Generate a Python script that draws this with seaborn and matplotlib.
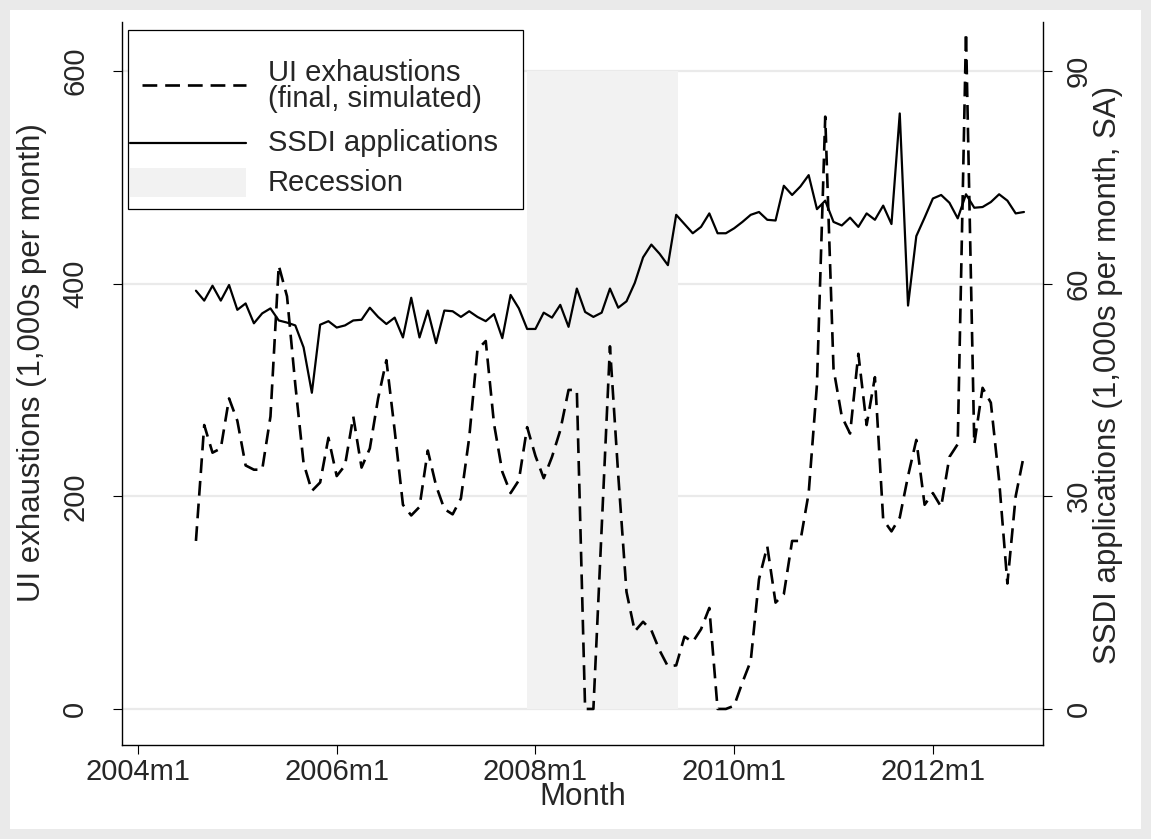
import matplotlib.pyplot as plt
import numpy as np
import pandas as pd
import seaborn as sns
from matplotlib.patches import Rectangle
from matplotlib.lines import Line2D

# monthly data, 2004m8 - 2012m12
months = pd.period_range("2004-08", "2012-12", freq="M")

ui_exhaustions = [
    158, 267, 241, 245, 292, 271, 229, 225, 225, 275, 417, 388, 305, 231, 205, 213, 255,
    219, 229, 275, 227, 245, 292, 328, 262, 192, 182, 190, 243,
    210, 188, 183, 198, 255, 338, 346, 268, 223, 203, 215, 265,
    238, 217, 237, 262, 300, 300, 0, 0, 170, 341, 220, 110,
    73, 82, 74, 55, 40, 41, 68, 63, 75, 95, 0, 0,
    3, 25, 45, 122, 153, 100, 108, 158, 158, 203, 305, 557,
    320, 275, 259, 334, 267, 312, 178, 167, 180, 219, 253, 192,
    203, 190, 237, 249, 636, 249, 302, 288, 215, 118, 200, 239,
]

ssdi_applications = [
    59.0, 57.6, 59.7, 57.6, 59.8, 56.3, 57.2, 54.4, 55.8, 56.5, 54.8, 54.5, 54.1, 51.0, 44.6, 54.2, 54.7,
    53.8, 54.1, 54.8, 54.9, 56.6, 55.3, 54.3, 55.2, 52.4, 58.0, 52.4, 56.2,
    51.6, 56.2, 56.1, 55.3, 56.1, 55.3, 54.7, 55.7, 52.3, 58.4, 56.5, 53.6,
    53.6, 55.9, 55.2, 57.0, 53.9, 59.3, 56.0, 55.3, 55.9, 59.3, 56.6, 57.5,
    60.1, 63.7, 65.5, 64.2, 62.6, 69.7, 68.4, 67.1, 68.0, 69.9, 67.1, 67.1,
    67.8, 68.7, 69.7, 70.1, 69.0, 68.9, 73.8, 72.5, 73.7, 75.3, 70.5, 71.7,
    68.7, 68.2, 69.3, 68.0, 69.9, 69.0, 71.0, 68.4, 84.0, 56.9, 66.7, 69.3,
    72.0, 72.5, 71.4, 69.2, 72.6, 70.7, 70.8, 71.5, 72.6, 71.7, 69.9, 70.1,
]

recession_start = "2007-12"
recession_end = "2009-06"
tick_months = ["2004-01", "2006-01", "2008-01", "2010-01", "2012-01"]
left_ticks = [0, 200, 400, 600]
right_ticks = [0, 30, 60, 90]
legend_labels = ["UI exhaustions\n(final, simulated)", "SSDI applications", "Recession"]


def month_num(p):
    p = pd.Period(p, freq="M")
    return (p.year - 2004) * 12 + p.month - 1


df = pd.DataFrame({
    "month": [month_num(p) for p in months],
    "ui": ui_exhaustions,
    "ssdi": ssdi_applications,
})

sns.set_theme(style="white")
plt.rcParams["font.family"] = ["Liberation Sans", "DejaVu Sans"]
FS_TICK = 21
FS_LEG = 21
FS_TITLE = 22.5
W, H = 1151, 839
SHADE = "#f2f2f2"
DASH = (5.6, 3.0)

fig = plt.figure(figsize=(W / 100, H / 100), dpi=100, facecolor="#eaeaea")
fig.add_artist(Rectangle((10 / W, 10 / H), (W - 20) / W, (H - 20) / H,
                         transform=fig.transFigure, facecolor="white",
                         edgecolor="none", zorder=-1))

ax = fig.add_axes([122 / W, 1 - 745 / H, (1043 - 122) / W, (745 - 22) / H])
ax.set_facecolor("white")

# left axis range: 0 at y=709px, 600 at y=71px
ylo, yhi = -33.9, 646.0
ax.set_xlim(-1.93, 109.3)
ax.set_ylim(ylo, yhi)

ax.grid(axis="y", color="#eaeaea", lw=1.6)
ax.grid(axis="x", visible=False)
ax.set_axisbelow(True)

# recession shading
rs, re_ = month_num(recession_start), month_num(recession_end) + 0.25
ax.fill_between([rs, re_], 0, left_ticks[-1], color=SHADE, lw=0, zorder=1)

sns.lineplot(data=df, x="month", y="ui", ax=ax, color="black", lw=1.9, zorder=3)
ax.lines[-1].set_dashes(DASH)

ax2 = ax.twinx()
sns.lineplot(data=df, x="month", y="ssdi", ax=ax2, color="black", lw=1.6, zorder=3)
ax2.set_ylim(ylo * 0.15, yhi * 0.15)
ax2.set_xlim(-1.93, 109.3)

# ticks and labels
xt = [month_num(p) for p in tick_months]
ax.set_xticks(xt)
ax.set_xticklabels([f"{pd.Period(p).year}m{pd.Period(p).month}" for p in tick_months], fontsize=FS_TICK)
ax.set_yticks(left_ticks)
ax.set_yticklabels([str(v) for v in left_ticks], rotation=90, va="center", fontsize=FS_TICK)
ax2.set_yticks(right_ticks)
ax2.set_yticklabels([str(v) for v in right_ticks], rotation=90, va="center", fontsize=FS_TICK)

ax.tick_params(axis="x", direction="out", length=6.5, width=0.8, color="black", pad=3, bottom=True)
ax.tick_params(axis="y", direction="out", length=6.5, width=0.8, color="black", pad=17, left=True)
ax2.tick_params(axis="y", direction="out", length=6.5, width=0.8, color="black", pad=9, right=True)

for a in (ax, ax2):
    for s in a.spines.values():
        s.set_visible(False)
ax.spines["left"].set_visible(True)
ax.spines["bottom"].set_visible(True)
ax2.spines["right"].set_visible(True)
for s in (ax.spines["left"], ax.spines["bottom"], ax2.spines["right"]):
    s.set_color("black")
    s.set_linewidth(1.0)

ax.set_xlabel("Month", fontsize=FS_TITLE)
ax.xaxis.set_label_coords(0.5, -0.051)
ax.set_ylabel("UI exhaustions (1,000s per month)", fontsize=FS_TITLE)
ax.yaxis.set_label_coords(-0.0814, 0.529)
ax2.set_ylabel("SSDI applications (1,000s per month, SA)", fontsize=FS_TITLE)
ax2.yaxis.set_label_coords(1.054, 0.512)


# legend box (Stata style), laid out in figure pixels from the top-left corner
def fx(x):
    return x / W


def fy(y):
    return 1 - y / H


tf = fig.transFigure
fig.add_artist(Rectangle((fx(128), fy(209)), fx(523) - fx(128), fy(30) - fy(209),
                         transform=tf, facecolor="white", edgecolor="black",
                         lw=0.9, zorder=5))
fig.add_artist(Line2D([fx(142), fx(246)], [fy(85), fy(85)], transform=tf,
                      color="black", lw=1.9, dashes=DASH, zorder=6))
fig.add_artist(Line2D([fx(130), fx(246)], [fy(143), fy(143)], transform=tf,
                      color="black", lw=1.6, zorder=6))
fig.add_artist(Rectangle((fx(130), fy(197)), fx(246) - fx(130), fy(168) - fy(197),
                         transform=tf, facecolor=SHADE, edgecolor="none", zorder=6))
for lab, yc in zip(legend_labels, [86, 143, 183]):
    fig.text(fx(268), fy(yc), lab, fontsize=FS_LEG, va="center", ha="left",
             linespacing=0.95, transform=tf, zorder=7)

fig.savefig("out.png", dpi=100, facecolor=fig.get_facecolor())
